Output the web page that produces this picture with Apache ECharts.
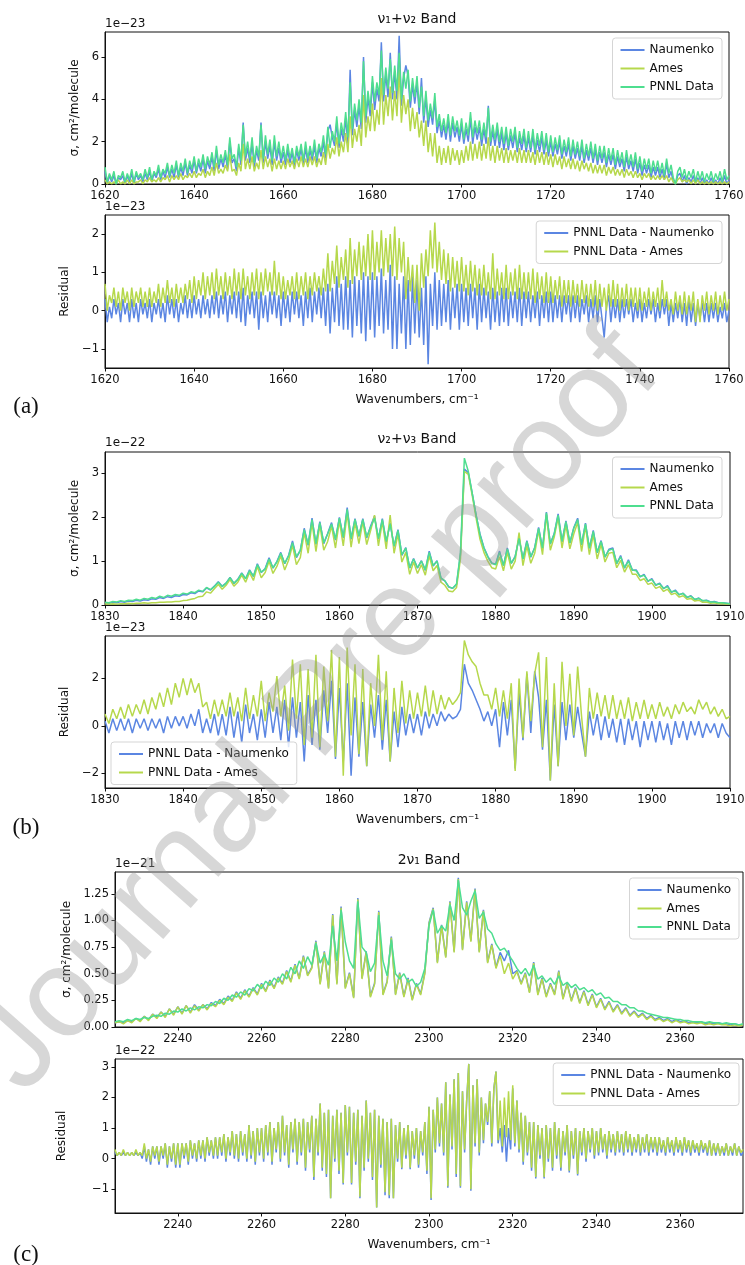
<!DOCTYPE html>
<html lang="en">
<head>
    <meta charset="UTF-8" />
    <title>Band cross sections and residuals</title>
    <script src="https://cdn.jsdelivr.net/npm/echarts@6/dist/echarts.min.js"></script>
    <style>
        html, body { margin: 0; padding: 0; background: #fff; }
        #chart { width: 745px; height: 1265px; }
    </style>
</head>
<body>
<div id="chart"></div>
<script type="text/javascript">
    // ---- band (a): v1+v2, 1620..1760 step 0.5, units 1e-23
    const startA = 1620, stepA = 0.5;
    const naumenkoA = [
        0.6, 0.0, 0.4, 0.1, 0.4, 0.0, 0.3, 0.2, 0.4, 0.0,
        0.4, 0.1, 0.5, 0.0, 0.5, 0.2, 0.4, 0.1, 0.5, 0.2,
        0.6, 0.1, 0.5, 0.3, 0.7, 0.2, 0.6, 0.3, 0.8, 0.3,
        0.7, 0.3, 0.9, 0.3, 0.8, 0.4, 1.0, 0.4, 0.9, 0.5,
        1.1, 0.5, 1.0, 0.6, 1.2, 0.5, 1.1, 0.7, 1.3, 0.6,
        1.6, 0.7, 1.2, 0.8, 1.4, 0.7, 2.0, 1.0, 1.2, 0.6,
        1.7, 0.9, 2.9, 1.1, 1.7, 1.0, 1.9, 0.8, 1.6, 1.1,
        2.9, 1.0, 2.0, 1.2, 1.8, 0.9, 2.0, 1.1, 1.7, 1.0,
        1.5, 0.9, 1.6, 1.0, 1.5, 0.8, 1.6, 1.1, 1.7, 0.9,
        1.7, 1.0, 1.6, 1.1, 1.8, 1.0, 1.7, 1.3, 2.0, 1.2,
        2.5, 2.8, 2.2, 1.8, 2.9, 1.7, 2.6, 2.0, 3.1, 1.9,
        5.4, 2.3, 3.5, 2.7, 3.7, 2.6, 6.0, 2.9, 4.1, 3.2,
        4.8, 3.5, 4.5, 3.9, 6.7, 3.9, 5.2, 4.1, 6.2, 4.0,
        5.3, 4.0, 7.0, 3.7, 5.0, 5.6, 5.1, 3.6, 4.7, 3.8,
        4.8, 3.3, 5.0, 2.9, 4.1, 2.7, 3.5, 2.8, 4.0, 2.4,
        3.0, 2.2, 2.8, 2.1, 3.0, 2.0, 2.9, 2.2, 2.7, 2.0,
        2.8, 1.9, 2.6, 2.0, 3.1, 1.9, 2.7, 2.1, 2.7, 1.8,
        2.6, 1.9, 3.7, 1.8, 2.5, 1.8, 2.6, 1.7, 2.4, 1.6,
        2.4, 1.6, 2.3, 1.7, 2.4, 1.5, 2.2, 1.6, 2.3, 1.5,
        2.2, 1.5, 2.3, 1.4, 2.1, 1.5, 2.2, 1.4, 2.1, 1.3,
        2.0, 1.3, 1.9, 1.4, 2.0, 1.2, 1.8, 1.3, 1.9, 1.1,
        1.8, 1.2, 1.7, 1.1, 1.8, 1.0, 1.6, 1.1, 1.7, 1.0,
        1.6, 0.9, 1.5, 1.0, 1.5, 0.8, 1.4, 0.9, 1.4, 0.7,
        1.3, 0.8, 1.2, 0.6, 1.3, 0.7, 1.1, 0.6, 1.2, 0.5,
        1.0, 0.4, 0.9, 0.5, 0.9, 0.3, 0.8, 0.4, 0.8, 0.3,
        0.7, 0.2, 1.0, 0.3, 0.6, 0.1, 0.0, 0.4, 0.5, 0.1,
        0.4, 0.0, 0.3, 0.1, 0.4, 0.0, 0.3, 0.0, 0.3, 0.0,
        0.2, 0.0, 0.3, 0.0, 0.2, 0.0, 0.3, 0.0, 0.4, 0.0,
        0.2
    ];
    const amesA = [
        0.2, 0.0, 0.1, 0.0, 0.1, 0.0, 0.2, 0.0, 0.1, 0.0,
        0.2, 0.0, 0.2, 0.0, 0.1, 0.1, 0.2, 0.0, 0.2, 0.1,
        0.3, 0.1, 0.2, 0.1, 0.3, 0.1, 0.3, 0.2, 0.4, 0.1,
        0.4, 0.2, 0.4, 0.2, 0.5, 0.2, 0.4, 0.3, 0.5, 0.3,
        0.6, 0.3, 0.5, 0.4, 0.7, 0.3, 0.6, 0.4, 0.8, 0.4,
        1.0, 0.5, 0.7, 0.5, 0.9, 0.6, 1.4, 0.6, 0.7, 0.4,
        1.0, 0.6, 1.9, 0.7, 1.2, 0.7, 1.3, 0.6, 1.0, 0.7,
        1.6, 0.7, 1.3, 0.8, 1.2, 0.6, 1.2, 0.7, 1.1, 0.7,
        1.1, 0.7, 1.2, 0.8, 1.1, 0.7, 1.2, 0.8, 1.3, 0.8,
        1.2, 0.8, 1.3, 0.9, 1.3, 0.8, 1.2, 0.9, 1.5, 0.9,
        1.9, 1.2, 1.7, 1.4, 2.2, 1.3, 2.0, 1.5, 2.4, 1.5,
        3.2, 1.7, 2.6, 2.0, 2.8, 1.8, 4.2, 2.2, 3.2, 2.5,
        3.8, 2.5, 3.5, 2.8, 5.0, 2.8, 4.2, 3.2, 4.6, 3.0,
        4.4, 3.2, 5.4, 2.9, 4.2, 3.3, 4.0, 2.5, 3.6, 2.6,
        3.4, 2.2, 3.0, 1.8, 3.0, 1.5, 2.4, 1.3, 2.4, 1.0,
        1.8, 0.9, 1.7, 1.0, 1.8, 0.9, 1.7, 1.1, 1.6, 0.9,
        1.6, 1.0, 1.8, 1.1, 2.0, 1.1, 1.9, 1.2, 2.0, 1.1,
        1.9, 1.2, 2.2, 1.1, 1.8, 1.0, 1.8, 1.1, 1.7, 1.0,
        1.7, 1.0, 1.6, 1.1, 1.6, 1.0, 1.7, 1.0, 1.6, 1.0,
        1.6, 1.0, 1.5, 0.9, 1.6, 1.0, 1.5, 0.9, 1.5, 0.9,
        1.4, 0.8, 1.4, 0.9, 1.3, 0.7, 1.3, 0.8, 1.2, 0.7,
        1.2, 0.7, 1.1, 0.6, 1.1, 0.7, 1.0, 0.6, 1.0, 0.5,
        0.9, 0.5, 0.9, 0.5, 0.9, 0.4, 0.8, 0.5, 0.8, 0.4,
        0.7, 0.4, 0.7, 0.3, 0.7, 0.4, 0.6, 0.3, 0.6, 0.3,
        0.5, 0.2, 0.5, 0.3, 0.5, 0.2, 0.4, 0.2, 0.4, 0.2,
        0.4, 0.2, 0.4, 0.1, 0.3, 0.1, 0.0, 0.2, 0.3, 0.1,
        0.2, 0.1, 0.2, 0.0, 0.2, 0.0, 0.2, 0.0, 0.1, 0.0,
        0.1, 0.0, 0.1, 0.0, 0.1, 0.0, 0.1, 0.0, 0.1, 0.0,
        0.1
    ];
    const pnnlA = [
        0.8, 0.1, 0.5, 0.2, 0.6, 0.0, 0.4, 0.3, 0.6, 0.1,
        0.5, 0.2, 0.7, 0.1, 0.6, 0.3, 0.5, 0.2, 0.7, 0.3,
        0.8, 0.2, 0.6, 0.4, 0.9, 0.3, 0.7, 0.5, 1.0, 0.4,
        0.9, 0.5, 1.1, 0.4, 1.0, 0.6, 1.2, 0.5, 1.1, 0.7,
        1.3, 0.6, 1.2, 0.8, 1.4, 0.7, 1.3, 0.9, 1.5, 0.8,
        1.8, 0.9, 1.4, 1.0, 1.6, 0.9, 2.2, 1.2, 1.4, 0.8,
        1.9, 1.1, 2.8, 1.3, 2.0, 1.2, 2.2, 1.0, 1.8, 1.3,
        2.8, 1.2, 2.3, 1.4, 2.1, 1.1, 2.3, 1.3, 2.0, 1.2,
        1.8, 1.1, 1.9, 1.2, 1.7, 1.0, 1.8, 1.3, 1.9, 1.1,
        2.0, 1.2, 1.8, 1.3, 2.1, 1.2, 1.9, 1.5, 2.3, 1.4,
        2.7, 1.7, 2.5, 2.0, 3.2, 1.9, 2.9, 2.3, 3.4, 2.2,
        4.8, 2.6, 3.8, 3.0, 4.0, 2.9, 5.8, 3.2, 4.4, 3.5,
        5.1, 3.9, 4.8, 4.2, 6.3, 4.2, 5.5, 4.5, 5.9, 4.3,
        5.6, 4.4, 6.2, 4.0, 5.3, 4.5, 5.4, 3.9, 5.0, 4.1,
        5.1, 3.6, 4.6, 3.2, 4.4, 3.0, 3.8, 3.1, 4.3, 2.7,
        3.3, 2.5, 3.1, 2.4, 3.3, 2.3, 3.2, 2.5, 3.0, 2.3,
        3.1, 2.1, 2.9, 2.3, 3.4, 2.2, 3.0, 2.4, 3.0, 2.1,
        2.9, 2.2, 3.6, 2.0, 2.8, 2.1, 2.9, 2.0, 2.7, 1.9,
        2.7, 1.8, 2.6, 2.0, 2.7, 1.7, 2.5, 1.9, 2.6, 1.7,
        2.5, 1.7, 2.6, 1.6, 2.4, 1.8, 2.5, 1.6, 2.4, 1.5,
        2.3, 1.5, 2.2, 1.6, 2.3, 1.4, 2.1, 1.5, 2.2, 1.3,
        2.1, 1.4, 2.0, 1.3, 2.1, 1.2, 1.9, 1.3, 2.0, 1.2,
        1.9, 1.1, 1.8, 1.2, 1.8, 1.0, 1.7, 1.1, 1.7, 0.9,
        1.6, 1.0, 1.5, 0.8, 1.6, 0.9, 1.4, 0.8, 1.5, 0.7,
        1.3, 0.6, 1.2, 0.7, 1.2, 0.5, 1.1, 0.6, 1.1, 0.5,
        1.0, 0.4, 1.2, 0.5, 0.9, 0.3, 0.0, 0.6, 0.8, 0.3,
        0.7, 0.2, 0.6, 0.3, 0.7, 0.1, 0.6, 0.2, 0.6, 0.1,
        0.5, 0.2, 0.6, 0.1, 0.5, 0.2, 0.6, 0.1, 0.7, 0.2,
        0.4
    ];
    const resNaumenkoA = [
        0.3, -0.3, 0.1, -0.2, 0.3, -0.1, 0.2, -0.3, 0.3, -0.1,
        0.2, -0.3, 0.3, -0.2, 0.2, -0.3, 0.3, -0.1, 0.2, -0.2,
        0.3, -0.3, 0.2, -0.1, 0.3, -0.2, 0.2, -0.3, 0.4, -0.1,
        0.3, -0.2, 0.3, -0.3, 0.2, -0.1, 0.4, -0.2, 0.3, -0.2,
        0.4, -0.1, 0.3, -0.2, 0.4, -0.1, 0.3, -0.2, 0.4, -0.1,
        0.5, -0.2, 0.4, -0.1, 0.5, -0.3, 0.4, -0.1, 0.5, -0.2,
        0.5, -0.3, 0.6, -0.4, 0.4, -0.1, 0.5, -0.2, 0.5, -0.5,
        0.5, -0.2, 0.4, -0.3, 0.5, -0.1, 0.5, -0.2, 0.4, -0.4,
        0.5, -0.2, 0.4, -0.3, 0.5, -0.1, 0.5, -0.2, 0.4, -0.4,
        0.5, -0.2, 0.6, -0.3, 0.5, -0.1, 0.6, -0.2, 0.6, -0.4,
        0.7, -0.6, 0.6, -0.3, 0.9, -0.4, 0.7, -0.5, 0.9, -0.5,
        0.8, -0.7, 0.9, -0.4, 0.8, -0.6, 1.0, -0.8, 0.9, -0.5,
        1.0, -0.7, 0.9, -0.4, 1.1, -0.6, 0.8, -0.5, 1.2, -1.0,
        0.9, -1.0, 0.7, -0.6, 0.9, -1.0, 0.8, -0.9, 0.9, -0.6,
        0.8, -0.7, 0.6, -0.9, 0.9, -1.4, 0.7, -0.4, 1.0, -0.5,
        0.8, -0.4, 0.7, -0.3, 0.8, -0.5, 0.6, -0.2, 0.7, -0.5,
        0.7, -0.3, 0.6, -0.4, 0.7, -0.2, 0.6, -0.5, 0.7, -0.3,
        0.6, -0.2, 0.5, -0.5, 0.6, -0.3, 0.5, -0.4, 0.6, -0.3,
        0.6, -0.4, 0.5, -0.2, 0.5, -0.3, 0.6, -0.4, 0.5, -0.2,
        0.5, -0.3, 0.4, -0.2, 0.5, -0.4, 0.4, -0.2, 0.5, -0.3,
        0.5, -0.3, 0.4, -0.2, 0.4, -0.3, 0.4, -0.1, 0.4, -0.3,
        0.4, -0.2, 0.4, -0.3, 0.3, -0.1, 0.4, -0.3, 0.3, -0.2,
        0.4, -0.3, 0.3, -0.2, -0.7, 0.1, 0.4, -0.3, 0.3, -0.2,
        0.3, -0.3, 0.3, -0.2, 0.3, -0.1, 0.3, -0.3, 0.2, -0.2,
        0.3, -0.3, 0.2, -0.2, 0.3, -0.1, 0.3, -0.3, 0.2, -0.2,
        0.3, -0.1, 0.3, -0.4, 0.2, -0.3, 0.2, -0.2, 0.3, -0.3,
        0.2, -0.4, 0.3, -0.3, 0.2, -0.4, 0.2, -0.2, 0.2, -0.3,
        0.2, -0.3, 0.2, -0.2, 0.2, -0.3, 0.1, -0.2, 0.2, -0.3,
        0.0
    ];
    const resAmesA = [
        0.7, 0.0, 0.4, 0.2, 0.6, 0.1, 0.5, 0.0, 0.6, 0.2,
        0.5, 0.0, 0.6, 0.1, 0.5, 0.2, 0.6, 0.1, 0.5, 0.1,
        0.6, 0.1, 0.5, 0.2, 0.7, 0.1, 0.6, 0.2, 0.8, 0.2,
        0.6, 0.1, 0.7, 0.2, 0.6, 0.2, 0.7, 0.3, 0.8, 0.2,
        0.9, 0.3, 0.8, 0.4, 1.0, 0.3, 0.9, 0.4, 1.0, 0.3,
        1.1, 0.4, 0.9, 0.3, 1.0, 0.4, 0.9, 0.3, 1.1, 0.4,
        1.0, 0.3, 1.1, 0.4, 0.9, 0.3, 1.0, 0.4, 1.1, 0.3,
        1.0, 0.4, 1.1, 0.5, 1.0, 0.4, 1.3, 0.4, 1.0, 0.3,
        0.9, 0.3, 0.8, 0.4, 0.9, 0.3, 1.0, 0.3, 0.9, 0.4,
        1.0, 0.3, 0.9, 0.4, 1.0, 0.5, 0.9, 0.4, 1.1, 0.5,
        1.5, 0.5, 1.3, 0.7, 1.7, 0.6, 1.4, 0.8, 1.6, 0.6,
        1.9, 0.7, 1.6, 0.9, 1.8, 0.8, 1.7, 0.9, 2.0, 0.8,
        2.1, 0.8, 1.8, 1.0, 2.1, 0.9, 1.9, 1.0, 2.0, 0.9,
        2.2, 0.8, 1.9, 1.0, 1.8, 0.3, 1.4, 0.5, 1.2, 0.2,
        1.2, 0.0, 1.5, 0.6, 1.6, 0.9, 2.1, 1.1, 2.3, 1.0,
        1.8, 0.8, 1.6, 0.7, 1.5, 0.5, 1.4, 0.6, 1.3, 0.5,
        1.4, 0.5, 1.2, 0.4, 1.3, 0.5, 1.2, 0.4, 1.1, 0.4,
        1.2, 0.4, 1.0, 0.3, 1.5, 0.3, 1.1, 0.4, 1.0, 0.3,
        1.2, 0.3, 1.0, 0.4, 1.1, 0.3, 1.2, 0.3, 1.0, 0.3,
        1.0, 0.3, 1.1, 0.2, 1.0, 0.3, 0.9, 0.2, 1.0, 0.2,
        0.9, 0.2, 0.8, 0.3, 0.9, 0.1, 0.8, 0.2, 0.8, 0.1,
        0.8, 0.2, 0.7, 0.1, 0.8, 0.2, 0.7, 0.1, 0.7, 0.1,
        0.8, 0.0, 0.7, 0.1, 0.6, 0.0, 0.7, 0.1, 0.8, 0.1,
        0.7, 0.0, 0.6, 0.1, 0.7, 0.0, 0.6, 0.1, 0.6, 0.0,
        0.6, 0.0, 0.5, 0.1, 0.6, 0.0, 0.5, 0.1, 0.6, 0.0,
        0.8, 0.1, 0.5, 0.0, 0.3, -0.1, 0.5, 0.0, 0.4, -0.1,
        0.5, -0.1, 0.4, 0.0, 0.5, -0.3, 0.3, -0.3, 0.4, 0.0,
        0.5, -0.1, 0.4, 0.0, 0.5, -0.1, 0.4, 0.0, 0.5, 0.0,
        0.3
    ];

    // ---- band (b): v2+v3, 1830..1910 step 0.5, units 1e-22 (residual 1e-23)
    const startB = 1830, stepB = 0.5;
    const naumenkoB = [
        0.05, 0.04, 0.06, 0.05, 0.08, 0.06, 0.09, 0.08, 0.11, 0.09,
        0.12, 0.11, 0.14, 0.13, 0.17, 0.15, 0.19, 0.17, 0.21, 0.20,
        0.24, 0.23, 0.28, 0.26, 0.32, 0.30, 0.39, 0.34, 0.43, 0.53,
        0.43, 0.50, 0.63, 0.49, 0.59, 0.73, 0.60, 0.80, 0.65, 0.94,
        0.74, 0.83, 1.08, 0.84, 0.99, 1.20, 0.94, 1.13, 1.46, 1.08,
        1.24, 1.75, 1.36, 1.98, 1.38, 1.90, 1.40, 1.63, 1.88, 1.48,
        2.00, 1.53, 2.22, 1.50, 1.97, 1.56, 1.97, 1.53, 1.80, 2.03,
        1.50, 1.97, 1.43, 1.87, 1.33, 1.72, 1.13, 1.31, 0.84, 1.06,
        0.84, 1.01, 0.79, 1.23, 0.89, 1.01, 0.61, 0.55, 0.41, 0.38,
        0.47, 1.15, 3.10, 3.02, 2.55, 2.05, 1.62, 1.31, 1.11, 0.96,
        0.93, 1.23, 0.90, 1.30, 0.95, 1.11, 1.53, 1.05, 1.47, 1.09,
        1.31, 1.77, 1.29, 2.12, 1.39, 1.63, 2.08, 1.44, 1.92, 1.41,
        1.76, 1.98, 1.37, 1.87, 1.29, 1.70, 1.19, 1.47, 1.09, 1.27,
        1.30, 0.94, 1.13, 0.84, 1.03, 0.79, 0.80, 0.64, 0.70, 0.54,
        0.60, 0.45, 0.50, 0.37, 0.44, 0.29, 0.34, 0.23, 0.27, 0.17,
        0.21, 0.12, 0.16, 0.09, 0.11, 0.07, 0.08, 0.05, 0.05, 0.04,
        0.03
    ];
    const amesB = [
        0.02, 0.02, 0.03, 0.02, 0.03, 0.03, 0.04, 0.03, 0.04, 0.04,
        0.05, 0.04, 0.05, 0.05, 0.06, 0.06, 0.07, 0.07, 0.08, 0.08,
        0.10, 0.11, 0.13, 0.15, 0.19, 0.20, 0.30, 0.27, 0.37, 0.47,
        0.36, 0.45, 0.58, 0.43, 0.52, 0.68, 0.52, 0.74, 0.56, 0.88,
        0.62, 0.74, 1.00, 0.72, 0.88, 1.12, 0.80, 1.02, 1.36, 0.92,
        1.08, 1.65, 1.18, 1.88, 1.22, 1.82, 1.25, 1.45, 1.80, 1.30,
        1.92, 1.35, 2.10, 1.32, 1.88, 1.40, 1.90, 1.38, 1.70, 2.05,
        1.35, 1.90, 1.28, 2.05, 1.18, 1.62, 0.98, 1.20, 0.70, 0.98,
        0.72, 0.92, 0.68, 1.12, 0.78, 0.90, 0.52, 0.45, 0.32, 0.30,
        0.40, 1.05, 3.05, 2.98, 2.50, 1.98, 1.50, 1.20, 1.00, 0.85,
        0.82, 1.10, 0.78, 1.20, 0.82, 1.00, 1.65, 0.90, 1.35, 0.95,
        1.18, 1.70, 1.15, 2.05, 1.25, 1.55, 2.00, 1.30, 1.82, 1.28,
        1.62, 1.88, 1.22, 1.80, 1.15, 1.60, 1.05, 1.38, 0.98, 1.18,
        1.20, 0.85, 1.02, 0.75, 0.92, 0.70, 0.70, 0.56, 0.60, 0.47,
        0.50, 0.38, 0.42, 0.31, 0.36, 0.24, 0.27, 0.18, 0.21, 0.13,
        0.15, 0.09, 0.11, 0.06, 0.07, 0.04, 0.05, 0.03, 0.03, 0.02,
        0.02
    ];
    const pnnlB = [
        0.06, 0.05, 0.08, 0.07, 0.10, 0.08, 0.11, 0.10, 0.13, 0.11,
        0.15, 0.13, 0.17, 0.15, 0.20, 0.17, 0.22, 0.20, 0.24, 0.22,
        0.27, 0.25, 0.30, 0.28, 0.34, 0.31, 0.40, 0.35, 0.42, 0.52,
        0.42, 0.50, 0.62, 0.50, 0.58, 0.72, 0.60, 0.78, 0.66, 0.92,
        0.75, 0.82, 1.05, 0.85, 0.98, 1.18, 0.95, 1.12, 1.42, 1.10,
        1.25, 1.72, 1.38, 1.95, 1.40, 1.88, 1.42, 1.62, 1.85, 1.50,
        1.98, 1.55, 2.18, 1.52, 1.95, 1.58, 1.95, 1.55, 1.78, 1.98,
        1.52, 1.95, 1.45, 1.85, 1.35, 1.70, 1.15, 1.30, 0.85, 1.05,
        0.85, 1.00, 0.80, 1.20, 0.90, 1.00, 0.62, 0.55, 0.42, 0.38,
        0.48, 1.20, 3.35, 3.05, 2.55, 2.05, 1.60, 1.30, 1.10, 0.95,
        0.92, 1.20, 0.90, 1.28, 0.95, 1.10, 1.52, 1.05, 1.45, 1.10,
        1.30, 1.75, 1.30, 2.10, 1.40, 1.62, 2.05, 1.45, 1.90, 1.42,
        1.75, 1.95, 1.38, 1.85, 1.30, 1.68, 1.20, 1.45, 1.10, 1.25,
        1.28, 0.95, 1.10, 0.85, 1.00, 0.80, 0.78, 0.65, 0.68, 0.55,
        0.58, 0.46, 0.48, 0.38, 0.42, 0.30, 0.32, 0.24, 0.26, 0.18,
        0.20, 0.13, 0.15, 0.10, 0.10, 0.07, 0.07, 0.05, 0.05, 0.04,
        0.03
    ];
    const resNaumenkoB = [
        0.2, -0.3, 0.3, -0.2, 0.3, -0.2, 0.3, -0.3, 0.3, -0.1,
        0.3, -0.2, 0.3, -0.1, 0.3, -0.3, 0.4, -0.1, 0.4, 0.0,
        0.4, -0.1, 0.5, 0.0, 0.7, -0.3, 0.3, -0.3, 0.5, -0.4,
        0.5, -0.4, 0.8, -0.5, 0.6, -0.7, 0.9, -0.3, 0.5, -0.6,
        0.7, -0.5, 1.0, -0.3, 0.8, -0.6, 1.1, -0.9, 1.2, -0.5,
        1.0, -1.5, 1.3, -0.8, 1.1, -1.0, 1.5, -0.3, 1.9, -1.4,
        1.6, -1.5, 1.8, -2.1, 1.2, -1.3, 1.0, -1.7, 0.9, -0.5,
        1.3, -1.0, 1.1, -1.5, 0.6, -0.9, 0.8, -0.4, 0.5, -0.3,
        0.5, -0.4, 0.6, -0.1, 0.5, 0.0, 0.6, 0.2, 0.5, 0.3,
        0.4, 0.7, 2.6, 1.8, 1.5, 1.1, 0.7, 0.2, 0.6, 0.0,
        0.7, -0.9, 1.0, -0.4, 1.1, -1.8, 1.4, -0.6, 2.2, -0.3,
        2.3, 1.2, -1.0, 1.1, -2.3, 0.9, -1.7, 1.0, -0.6, 0.9,
        -0.5, 0.8, -0.3, -1.3, 0.6, -0.4, 0.5, -0.6, 0.4, -0.5,
        0.3, -0.7, 0.3, -0.8, 0.3, -0.6, 0.2, -0.9, 0.2, -0.6,
        0.2, -0.7, 0.2, -0.6, 0.1, -0.8, 0.2, -0.5, 0.2, -0.6,
        0.2, -0.4, 0.2, -0.5, 0.1, -0.3, 0.1, -0.5, 0.1, -0.3,
        -0.5
    ];
    const resAmesB = [
        0.5, 0.1, 0.7, 0.3, 0.8, 0.3, 0.9, 0.4, 0.9, 0.5,
        1.1, 0.5, 1.2, 0.7, 1.4, 0.8, 1.6, 0.9, 1.8, 1.2,
        2.0, 1.3, 2.0, 1.4, 1.8, 0.8, 1.0, 0.3, 1.1, 0.4,
        1.1, 0.4, 1.4, 0.4, 1.2, 0.2, 1.6, 0.3, 1.3, 0.4,
        1.9, 0.2, 1.4, 0.6, 2.1, 0.4, 1.7, -0.2, 2.8, 0.3,
        2.6, -0.8, 2.4, -0.5, 3.0, -0.9, 2.5, 0.2, 3.2, -1.3,
        2.9, -2.1, 3.3, -0.4, 2.6, -1.2, 2.4, -1.7, 1.8, 0.0,
        3.0, -0.6, 2.3, -1.5, 1.6, -0.3, 1.9, 0.1, 1.5, 0.3,
        1.4, 0.4, 1.7, 0.4, 1.5, 0.5, 1.3, 0.7, 1.2, 0.9,
        1.1, 1.4, 3.6, 3.0, 2.7, 2.5, 1.8, 1.3, 1.3, 0.7,
        1.6, 0.4, 1.5, 0.3, 1.8, -1.9, 2.0, -0.5, 2.3, 0.2,
        2.2, 3.1, -0.9, 2.9, -2.3, 1.8, -1.7, 2.7, 0.0, 2.2,
        -0.4, 2.5, 0.4, -1.3, 1.6, 0.3, 1.4, 0.4, 1.3, 0.3,
        1.3, 0.3, 1.1, 0.3, 1.2, 0.2, 1.0, 0.3, 1.1, 0.3,
        0.9, 0.3, 1.0, 0.4, 0.8, 0.3, 0.9, 0.5, 1.0, 0.6,
        0.8, 0.5, 1.1, 0.7, 1.0, 0.5, 0.8, 0.4, 0.7, 0.3,
        0.4
    ];

    // ---- band (c): 2v1, 2225..2375 step 1, units 1e-21
    const startC = 2225, stepC = 1;
    const naumenkoC = [
        0.04, 0.05, 0.04, 0.06, 0.05, 0.08, 0.06, 0.10, 0.07, 0.12,
        0.09, 0.14, 0.10, 0.17, 0.12, 0.19, 0.13, 0.20, 0.14, 0.21,
        0.16, 0.21, 0.17, 0.23, 0.20, 0.26, 0.22, 0.29, 0.25, 0.33,
        0.27, 0.35, 0.29, 0.37, 0.31, 0.41, 0.34, 0.44, 0.37, 0.47,
        0.41, 0.53, 0.43, 0.59, 0.46, 0.67, 0.49, 0.56, 0.81, 0.41,
        0.71, 0.37, 1.06, 0.41, 1.13, 0.37, 0.51, 0.28, 1.21, 0.46,
        0.71, 0.29, 0.41, 1.09, 0.31, 0.43, 0.85, 0.31, 0.51, 0.29,
        0.46, 0.26, 0.41, 0.31, 0.51, 0.98, 1.12, 0.61, 0.96, 0.66,
        1.18, 0.71, 1.40, 0.73, 1.18, 0.81, 1.30, 0.71, 1.10, 0.61,
        0.78, 0.56, 0.70, 0.62, 0.72, 0.50, 0.53, 0.41, 0.51, 0.33,
        0.61, 0.31, 0.46, 0.29, 0.41, 0.31, 0.53, 0.27, 0.41, 0.25,
        0.37, 0.23, 0.34, 0.21, 0.31, 0.19, 0.27, 0.17, 0.24, 0.15,
        0.21, 0.13, 0.18, 0.11, 0.15, 0.10, 0.13, 0.08, 0.11, 0.07,
        0.09, 0.06, 0.08, 0.05, 0.07, 0.05, 0.06, 0.04, 0.05, 0.04,
        0.05, 0.03, 0.04, 0.03, 0.04, 0.03, 0.03, 0.02, 0.03, 0.02,
        0.02
    ];
    const amesC = [
        0.04, 0.05, 0.03, 0.06, 0.04, 0.08, 0.05, 0.10, 0.06, 0.12,
        0.08, 0.14, 0.09, 0.17, 0.11, 0.19, 0.12, 0.20, 0.13, 0.20,
        0.15, 0.21, 0.16, 0.22, 0.19, 0.25, 0.21, 0.28, 0.24, 0.32,
        0.26, 0.34, 0.28, 0.36, 0.30, 0.40, 0.33, 0.43, 0.36, 0.46,
        0.40, 0.52, 0.42, 0.58, 0.45, 0.66, 0.48, 0.55, 0.80, 0.40,
        0.70, 0.36, 1.05, 0.40, 1.12, 0.36, 0.50, 0.27, 1.20, 0.45,
        0.70, 0.28, 0.40, 1.08, 0.30, 0.42, 0.84, 0.30, 0.50, 0.28,
        0.45, 0.25, 0.40, 0.30, 0.50, 0.97, 1.11, 0.60, 0.95, 0.65,
        1.17, 0.70, 1.39, 0.72, 1.17, 0.80, 1.29, 0.70, 1.09, 0.60,
        0.77, 0.55, 0.67, 0.50, 0.60, 0.45, 0.52, 0.40, 0.50, 0.32,
        0.60, 0.30, 0.45, 0.28, 0.40, 0.30, 0.52, 0.26, 0.40, 0.24,
        0.36, 0.22, 0.33, 0.20, 0.30, 0.18, 0.26, 0.16, 0.23, 0.14,
        0.20, 0.12, 0.17, 0.10, 0.14, 0.09, 0.12, 0.07, 0.10, 0.06,
        0.08, 0.05, 0.07, 0.04, 0.06, 0.04, 0.05, 0.03, 0.04, 0.03,
        0.04, 0.02, 0.03, 0.02, 0.03, 0.02, 0.02, 0.01, 0.02, 0.01,
        0.02
    ];
    const pnnlC = [
        0.05, 0.06, 0.05, 0.07, 0.06, 0.08, 0.07, 0.09, 0.08, 0.10,
        0.11, 0.10, 0.13, 0.12, 0.15, 0.14, 0.17, 0.15, 0.18, 0.16,
        0.19, 0.18, 0.21, 0.20, 0.24, 0.22, 0.27, 0.25, 0.30, 0.28,
        0.33, 0.30, 0.36, 0.34, 0.40, 0.36, 0.43, 0.39, 0.46, 0.42,
        0.50, 0.45, 0.56, 0.50, 0.62, 0.55, 0.66, 0.58, 0.79, 0.60,
        0.68, 0.58, 0.95, 0.62, 1.10, 0.80, 0.62, 0.55, 1.18, 0.75,
        0.70, 0.52, 0.60, 1.05, 0.62, 0.48, 0.82, 0.50, 0.45, 0.50,
        0.42, 0.45, 0.38, 0.42, 0.55, 0.95, 1.10, 0.88, 0.95, 0.90,
        1.15, 1.00, 1.38, 1.12, 1.05, 1.18, 1.28, 1.02, 1.08, 0.92,
        0.88, 0.78, 0.72, 0.74, 0.68, 0.62, 0.55, 0.50, 0.55, 0.48,
        0.58, 0.45, 0.48, 0.42, 0.46, 0.40, 0.48, 0.39, 0.42, 0.37,
        0.40, 0.35, 0.37, 0.33, 0.35, 0.30, 0.32, 0.27, 0.28, 0.24,
        0.24, 0.21, 0.21, 0.18, 0.18, 0.15, 0.15, 0.13, 0.12, 0.11,
        0.10, 0.09, 0.09, 0.08, 0.07, 0.07, 0.06, 0.06, 0.05, 0.05,
        0.05, 0.04, 0.05, 0.04, 0.04, 0.03, 0.04, 0.03, 0.03, 0.02,
        0.03
    ];

    // ---- band (c) residuals: 2225..2375 step 0.5, units 1e-22
    const startCr = 2225, stepCr = 0.5;
    const resNaumenkoC = [
        0.2, 0.1, 0.2, 0.1, 0.2, 0.1, 0.2, 0.1, 0.2, 0.1,
        0.2, 0.1, 0.2, 0.0, 0.4, -0.1, 0.3, -0.2, 0.4, 0.0,
        0.4, -0.2, 0.4, 0.0, 0.5, -0.3, 0.4, -0.1, 0.5, -0.3,
        0.5, -0.3, 0.5, 0.0, 0.5, -0.2, 0.6, 0.0, 0.5, -0.1,
        0.6, 0.0, 0.6, -0.1, 0.7, 0.1, 0.6, 0.0, 0.7, 0.0,
        0.7, 0.1, 0.8, -0.1, 0.7, 0.1, 0.9, 0.0, 0.8, -0.1,
        0.9, 0.1, 0.8, -0.1, 1.1, 0.0, 0.9, -0.2, 1.0, 0.1,
        1.0, -0.1, 1.1, 0.1, 1.2, -0.2, 1.0, 0.2, 1.2, -0.1,
        1.4, 0.1, 1.1, -0.3, 1.2, 0.2, 1.3, -0.2, 1.2, 0.1,
        1.3, -0.4, 1.2, 0.2, 1.4, -0.7, 1.3, 0.1, 1.8, -0.4,
        1.5, -0.6, 1.6, -1.3, 1.4, -0.1, 1.6, -0.5, 1.5, -0.85,
        1.75, 0.1, 1.7, -0.85, 1.5, -0.2, 1.6, -1.3, 1.4, -0.4,
        1.9, -0.1, 1.5, -0.7, 1.6, -1.6, 1.4, -0.3, 1.3, -1.2,
        1.2, -1.3, 1.3, -1.3, 1.1, -0.1, 1.2, -0.35, 1.0, 0.0,
        1.1, -0.35, 0.9, 0.0, 1.0, -0.3, 0.9, 0.1, 1.2, -0.5,
        1.7, -1.35, 1.6, 0.2, 2.0, 0.4, 1.8, 0.1, 2.5, -0.95,
        2.1, 0.3, 2.6, -0.6, 2.8, -0.95, 2.2, 0.2, 1.9, 3.1,
        -1.05, 2.4, 0.4, 2.6, 0.1, 2.0, 0.5, 1.8, 1.1, 2.2,
        0.4, 2.3, 2.85, 0.5, 1.0, 0.2, 1.1, -0.1, 1.0, 0.3,
        2.3, 0.4, 1.9, 0.2, 1.5, -0.2, 1.4, 0.1, 1.2, -0.4,
        1.2, -0.65, 1.1, 0.0, 1.0, -0.65, 1.1, -0.1, 1.0, -0.4,
        1.2, 0.0, 1.0, -0.4, 0.9, 0.1, 1.1, -0.45, 0.9, 0.0,
        1.0, -0.55, 0.9, 0.1, 1.0, -0.1, 0.9, 0.2, 1.0, 0.0,
        0.9, 0.1, 1.0, 0.2, 0.8, 0.0, 0.9, 0.2, 0.8, 0.1,
        0.9, 0.2, 0.8, 0.1, 0.9, 0.2, 0.8, 0.1, 0.7, 0.2,
        0.8, 0.1, 0.7, 0.2, 0.8, 0.1, 0.7, 0.2, 0.7, 0.1,
        0.7, 0.2, 0.6, 0.1, 0.7, 0.2, 0.6, 0.1, 0.7, 0.2,
        0.6, 0.1, 0.7, 0.2, 0.6, 0.1, 0.6, 0.2, 0.5, 0.1,
        0.6, 0.2, 0.5, 0.1, 0.6, 0.1, 0.5, 0.1, 0.5, 0.1,
        0.4, 0.1, 0.5, 0.1, 0.4, 0.1, 0.5, 0.1, 0.4, 0.1,
        0.2
    ];
    const resAmesC = [
        0.3, 0.1, 0.2, 0.1, 0.3, 0.1, 0.2, 0.1, 0.2, 0.1,
        0.3, 0.1, 0.2, 0.1, 0.5, 0.0, 0.3, -0.1, 0.4, 0.1,
        0.4, -0.1, 0.4, 0.1, 0.5, -0.2, 0.4, 0.0, 0.5, -0.2,
        0.5, -0.2, 0.5, 0.1, 0.5, -0.1, 0.6, 0.1, 0.5, 0.0,
        0.6, 0.1, 0.6, 0.0, 0.7, 0.2, 0.6, 0.1, 0.7, 0.1,
        0.7, 0.2, 0.8, 0.0, 0.7, 0.2, 0.9, 0.1, 0.8, 0.0,
        0.9, 0.2, 0.8, 0.0, 1.1, 0.1, 0.9, -0.1, 1.0, 0.2,
        1.0, 0.0, 1.1, 0.2, 1.2, -0.1, 1.0, 0.3, 1.2, 0.0,
        1.4, 0.2, 1.1, -0.2, 1.2, 0.3, 1.3, -0.1, 1.2, 0.2,
        1.3, -0.3, 1.2, 0.3, 1.4, -0.6, 1.3, 0.2, 1.8, -0.3,
        1.5, -0.5, 1.6, -1.3, 1.4, 0.0, 1.6, -0.4, 1.5, -0.8,
        1.75, 0.2, 1.7, -0.8, 1.5, -0.1, 1.6, -1.25, 1.4, -0.3,
        1.9, 0.0, 1.5, -0.6, 1.6, -1.6, 1.4, -0.2, 1.3, -1.1,
        1.2, -1.2, 1.3, -1.3, 1.1, 0.0, 1.2, -0.3, 1.0, 0.1,
        1.1, -0.3, 0.9, 0.1, 1.0, -0.2, 0.9, 0.2, 1.2, -0.4,
        1.7, -1.3, 1.6, 0.3, 2.0, 0.5, 1.8, 0.2, 2.5, -0.9,
        2.1, 0.4, 2.6, -0.5, 2.8, -0.9, 2.2, 0.3, 1.9, 3.1,
        -1.0, 2.4, 0.5, 2.6, 0.2, 2.0, 0.6, 1.8, 1.2, 2.2,
        0.5, 2.3, 2.85, 0.6, 1.9, 0.4, 2.0, 0.7, 2.2, 0.6,
        2.4, 0.5, 1.9, 0.3, 1.5, -0.1, 1.4, 0.2, 1.2, -0.3,
        1.2, -0.6, 1.1, 0.1, 1.0, -0.6, 1.1, 0.0, 1.0, -0.3,
        1.2, 0.1, 1.0, -0.3, 0.9, 0.2, 1.1, -0.4, 0.9, 0.1,
        1.0, -0.5, 0.9, 0.2, 1.0, 0.0, 0.9, 0.3, 1.0, 0.1,
        0.9, 0.2, 1.0, 0.3, 0.8, 0.1, 0.9, 0.3, 0.8, 0.2,
        0.9, 0.3, 0.8, 0.2, 0.9, 0.3, 0.8, 0.2, 0.7, 0.3,
        0.8, 0.2, 0.7, 0.3, 0.8, 0.2, 0.7, 0.3, 0.7, 0.2,
        0.7, 0.3, 0.6, 0.2, 0.7, 0.3, 0.6, 0.2, 0.7, 0.3,
        0.6, 0.2, 0.7, 0.3, 0.6, 0.2, 0.6, 0.3, 0.5, 0.2,
        0.6, 0.3, 0.5, 0.2, 0.6, 0.1, 0.5, 0.2, 0.5, 0.1,
        0.4, 0.2, 0.5, 0.1, 0.4, 0.2, 0.5, 0.1, 0.4, 0.2,
        0.3
    ];

    // tick labels
    const ticksXA = [1620, 1640, 1660, 1680, 1700, 1720, 1740, 1760];
    const ticksXB = [1830, 1840, 1850, 1860, 1870, 1880, 1890, 1900, 1910];
    const ticksXC = [2240, 2260, 2280, 2300, 2320, 2340, 2360];
    const ticksY = [[0, 2, 4, 6], [-1, 0, 1, 2], [0, 1, 2, 3], [-2, 0, 2], [0, 0.25, 0.5, 0.75, 1, 1.25], [-1, 0, 1, 2, 3]];

    const FONT = '"DejaVu Sans", sans-serif';
    const C_NAU = '#5b86e2';
    const C_AMES = '#b6d84c';
    const C_PNNL = '#4ede8f';

    function pairs(start, step, vals) {
        return vals.map(function (v, i) { return [start + i * step, v]; });
    }
    function minus(v) { return String(v).replace('-', '\u2212'); }

    const grids = [
        { left: 105, top: 32, width: 624, height: 152 },
        { left: 105, top: 215, width: 624, height: 153 },
        { left: 105, top: 452, width: 625, height: 153 },
        { left: 105, top: 636, width: 625, height: 152 },
        { left: 115, top: 872, width: 628, height: 155 },
        { left: 115, top: 1059, width: 628, height: 154 }
    ].map(function (g) {
        return Object.assign(g, { show: true, borderColor: '#111', borderWidth: 1, outerBoundsMode: 'none', containLabel: false });
    });

    const xCfg = [
        [1620, 1760, ticksXA, false], [1620, 1760, ticksXA, true],
        [1830, 1910, ticksXB, false], [1830, 1910, ticksXB, true],
        [2225, 2375, ticksXC, false], [2225, 2375, ticksXC, true]
    ];
    const yCfg = [
        [0, 7.18, 'σ, cm²/molecule', 23, false],
        [-1.5, 2.5, 'Residual', 33, false],
        [0, 3.49, 'σ, cm²/molecule', 23, false],
        [-2.62, 3.79, 'Residual', 33, false],
        [0, 1.455, 'σ, cm²/molecule', 42, true],
        [-1.78, 3.26, 'Residual', 47, false]
    ];

    const xAxes = xCfg.map(function (c, i) {
        return {
            type: 'value', gridIndex: i, min: c[0], max: c[1],
            axisLine: { show: true, onZero: false, lineStyle: { color: '#111', width: 1 } },
            axisTick: { show: true, length: 3.5, customValues: c[2], lineStyle: { color: '#111' } },
            axisLabel: {
                customValues: c[2], margin: 6, fontSize: 11.5, color: '#111', fontFamily: FONT,
                formatter: function (v) { return String(v); }
            },
            splitLine: { show: false },
            name: c[3] ? 'Wavenumbers, cm⁻¹' : '',
            nameLocation: 'middle', nameGap: 26,
            nameTextStyle: { fontSize: 12, color: '#111', fontFamily: FONT }
        };
    });
    const yAxes = yCfg.map(function (c, i) {
        return {
            type: 'value', gridIndex: i, min: c[0], max: c[1],
            axisLine: { show: true, onZero: false, lineStyle: { color: '#111', width: 1 } },
            axisTick: { show: true, length: 3.5, customValues: ticksY[i], lineStyle: { color: '#111' } },
            axisLabel: {
                customValues: ticksY[i], margin: 6, fontSize: 11.5, color: '#111', fontFamily: FONT,
                formatter: c[4] ? function (v) { return v.toFixed(2); } : minus
            },
            splitLine: { show: false },
            name: c[2], nameLocation: 'middle', nameGap: c[3],
            nameTextStyle: { fontSize: 12, color: '#111', fontFamily: FONT }
        };
    });

    function line(name, color, idx, start, step, vals) {
        return {
            name: name, type: 'line', xAxisIndex: idx, yAxisIndex: idx,
            data: pairs(start, step, vals),
            showSymbol: false, symbol: 'none', sampling: false,
            lineStyle: { color: color, width: 1.5 }, itemStyle: { color: color },
            emphasis: { disabled: true }, animation: false
        };
    }

    const series = [
        line('Naumenko', C_NAU, 0, startA, stepA, naumenkoA),
        line('Ames', C_AMES, 0, startA, stepA, amesA),
        line('PNNL Data', C_PNNL, 0, startA, stepA, pnnlA),
        line('PNNL Data - Naumenko', C_NAU, 1, startA, stepA, resNaumenkoA),
        line('PNNL Data - Ames', C_AMES, 1, startA, stepA, resAmesA),
        line('Naumenko', C_NAU, 2, startB, stepB, naumenkoB),
        line('Ames', C_AMES, 2, startB, stepB, amesB),
        line('PNNL Data', C_PNNL, 2, startB, stepB, pnnlB),
        line('PNNL Data - Naumenko', C_NAU, 3, startB, stepB, resNaumenkoB),
        line('PNNL Data - Ames', C_AMES, 3, startB, stepB, resAmesB),
        line('Naumenko', C_NAU, 4, startC, stepC, naumenkoC),
        line('Ames', C_AMES, 4, startC, stepC, amesC),
        line('PNNL Data', C_PNNL, 4, startC, stepC, pnnlC),
        line('PNNL Data - Naumenko', C_NAU, 5, startCr, stepCr, resNaumenkoC),
        line('PNNL Data - Ames', C_AMES, 5, startCr, stepCr, resAmesC)
    ];

    const bandNames = ['Naumenko', 'Ames', 'PNNL Data'];
    const resNames = ['PNNL Data - Naumenko', 'PNNL Data - Ames'];
    function legend(names, pos) {
        return Object.assign({
            data: names, orient: 'vertical', icon: 'rect', itemWidth: 24, itemHeight: 2,
            itemGap: 4.5, padding: [5, 8, 5, 8], selectedMode: false,
            backgroundColor: 'rgba(255,255,255,0.8)', borderColor: '#d5d5d5', borderWidth: 1, borderRadius: 3,
            textStyle: { fontSize: 12, lineHeight: 14, color: '#111', fontFamily: FONT }
        }, pos);
    }

    function txt(x, y, s, size) {
        return {
            type: 'text', x: x, y: y, silent: true,
            style: { text: s, fill: '#111', font: size + 'px ' + FONT, align: 'left', verticalAlign: 'middle' }
        };
    }
    function centered(x, y, s, size) {
        const t = txt(x, y, s, size);
        t.style.align = 'center';
        return t;
    }
    function panelTag(y, s) {
        const t = txt(26, y, s, 23);
        t.style.align = 'center';
        t.style.font = '23px "Liberation Serif", "DejaVu Serif", serif';
        return t;
    }

    const graphics = [
        centered(417, 19, 'ν₁+ν₂ Band', 14),
        centered(417, 439, 'ν₂+ν₃ Band', 14),
        centered(429, 860, '2ν₁ Band', 14),
        txt(105, 24, '1e\u221223', 12),
        txt(105, 207, '1e\u221223', 12),
        txt(105, 443, '1e\u221222', 12),
        txt(105, 628, '1e\u221223', 12),
        txt(115, 864, '1e\u221221', 12),
        txt(115, 1051, '1e\u221222', 12),
        panelTag(407, '(a)'),
        panelTag(828, '(b)'),
        panelTag(1255, '(c)'),
        {
            type: 'text', x: 318, y: 712, rotation: 48.5 * Math.PI / 180, silent: true, z: 100,
            style: {
                text: 'Journal Pre-proof', fill: 'rgba(150,150,150,0.38)',
                font: '125px "Liberation Sans", Arial, sans-serif', align: 'center', verticalAlign: 'middle'
            }
        }
    ];

    const myChart = echarts.init(document.getElementById('chart'), null, { renderer: 'canvas' });
    myChart.setOption({
        animation: false,
        backgroundColor: '#fff',
        grid: grids,
        xAxis: xAxes,
        yAxis: yAxes,
        legend: [
            legend(bandNames, { right: 23, top: 38 }),
            legend(resNames, { right: 23, top: 221 }),
            legend(bandNames, { right: 23, top: 457 }),
            legend(resNames, { left: 111, top: 742 }),
            legend(bandNames, { right: 6, top: 878 }),
            legend(resNames, { right: 6, top: 1063 })
        ],
        series: series,
        graphic: graphics
    });
</script>
</body>
</html>
